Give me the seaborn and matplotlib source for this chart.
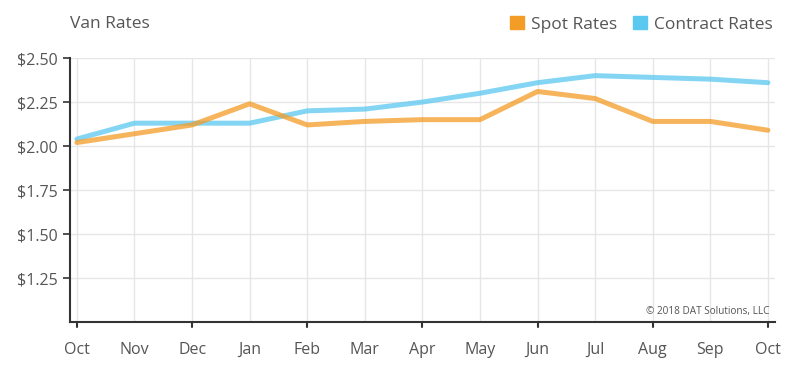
import matplotlib
matplotlib.use("Agg")
import matplotlib.pyplot as plt
from matplotlib.patches import Patch
import numpy as np
import pandas as pd
import seaborn as sns

months = ["Oct", "Nov", "Dec", "Jan", "Feb", "Mar", "Apr",
          "May", "Jun", "Jul", "Aug", "Sep", "Oct"]
spot = [2.02, 2.07, 2.12, 2.24, 2.12, 2.14, 2.15, 2.15, 2.31, 2.27, 2.14, 2.14, 2.09]
contract = [2.04, 2.13, 2.13, 2.13, 2.20, 2.21, 2.25, 2.30, 2.36, 2.40, 2.39, 2.38, 2.36]
y_ticks = [1.25, 1.50, 1.75, 2.00, 2.25, 2.50]

ORANGE = "#F39C26"
BLUE = "#5BC8F0"
TEXT = "#555555"

idx = np.arange(len(months))
df = pd.concat([
    pd.DataFrame({"pos": idx, "rate": spot, "series": "Spot Rates"}),
    pd.DataFrame({"pos": idx, "rate": contract, "series": "Contract Rates"}),
])

sns.set_theme(style="white")
plt.rcParams["font.family"] = ["Open Sans", "DejaVu Sans"]

fig = plt.figure(figsize=(8, 3.72), dpi=100)
ax = fig.add_axes([0.0875, 0.134, 0.881, 0.710])

sns.lineplot(data=df, x="pos", y="rate", hue="series",
             hue_order=["Contract Rates", "Spot Rates"],
             palette={"Spot Rates": ORANGE, "Contract Rates": BLUE},
             linewidth=3.6, alpha=0.75, legend=False, ax=ax,
             solid_capstyle="round")

ax.set_xlim(-0.12, len(months) - 1 + 0.12)
ax.set_ylim(1.0, 2.5)

ax.set_xticks(idx)
ax.set_xticklabels(months)
ax.set_yticks(y_ticks)
ax.set_yticklabels([f"${v:.2f}" for v in y_ticks])
ax.grid(True, color="#e6e6e6", linewidth=1)
ax.set_axisbelow(True)

# tick marks only on every other month
ax.tick_params(axis="x", length=0, pad=14, labelsize=11.5, labelcolor=TEXT)
for p in idx[::2]:
    ax.plot([p, p], [1.0, 0.973], color="#333333", lw=1.5,
            clip_on=False, transform=ax.transData)
ax.tick_params(axis="y", length=5, width=1.2, color="#333333",
               labelsize=11.5, labelcolor=TEXT, left=True, pad=4)

for s in ["top", "right"]:
    ax.spines[s].set_visible(False)
for s in ["left", "bottom"]:
    ax.spines[s].set_color("#333333")
    ax.spines[s].set_linewidth(1.5)

ax.set_xlabel("")
ax.set_ylabel("")

fig.text(0.0875, 0.935, "Van Rates", color=TEXT, fontsize=12.5, va="center", ha="left")

handles = [Patch(color=ORANGE, label="Spot Rates"),
           Patch(color=BLUE, label="Contract Rates")]
fig.legend(handles=handles, loc="center right", bbox_to_anchor=(0.985, 0.935),
           ncol=2, frameon=False, fontsize=12.5, handlelength=0.8, handleheight=0.8,
           handletextpad=0.4, columnspacing=0.9, labelcolor=TEXT)

ax.text(0.992, 0.02, "\u00a9 2018 DAT Solutions, LLC", transform=ax.transAxes,
        ha="right", va="bottom", fontsize=7.2, color=TEXT)

fig.savefig("out.png", dpi=100)
